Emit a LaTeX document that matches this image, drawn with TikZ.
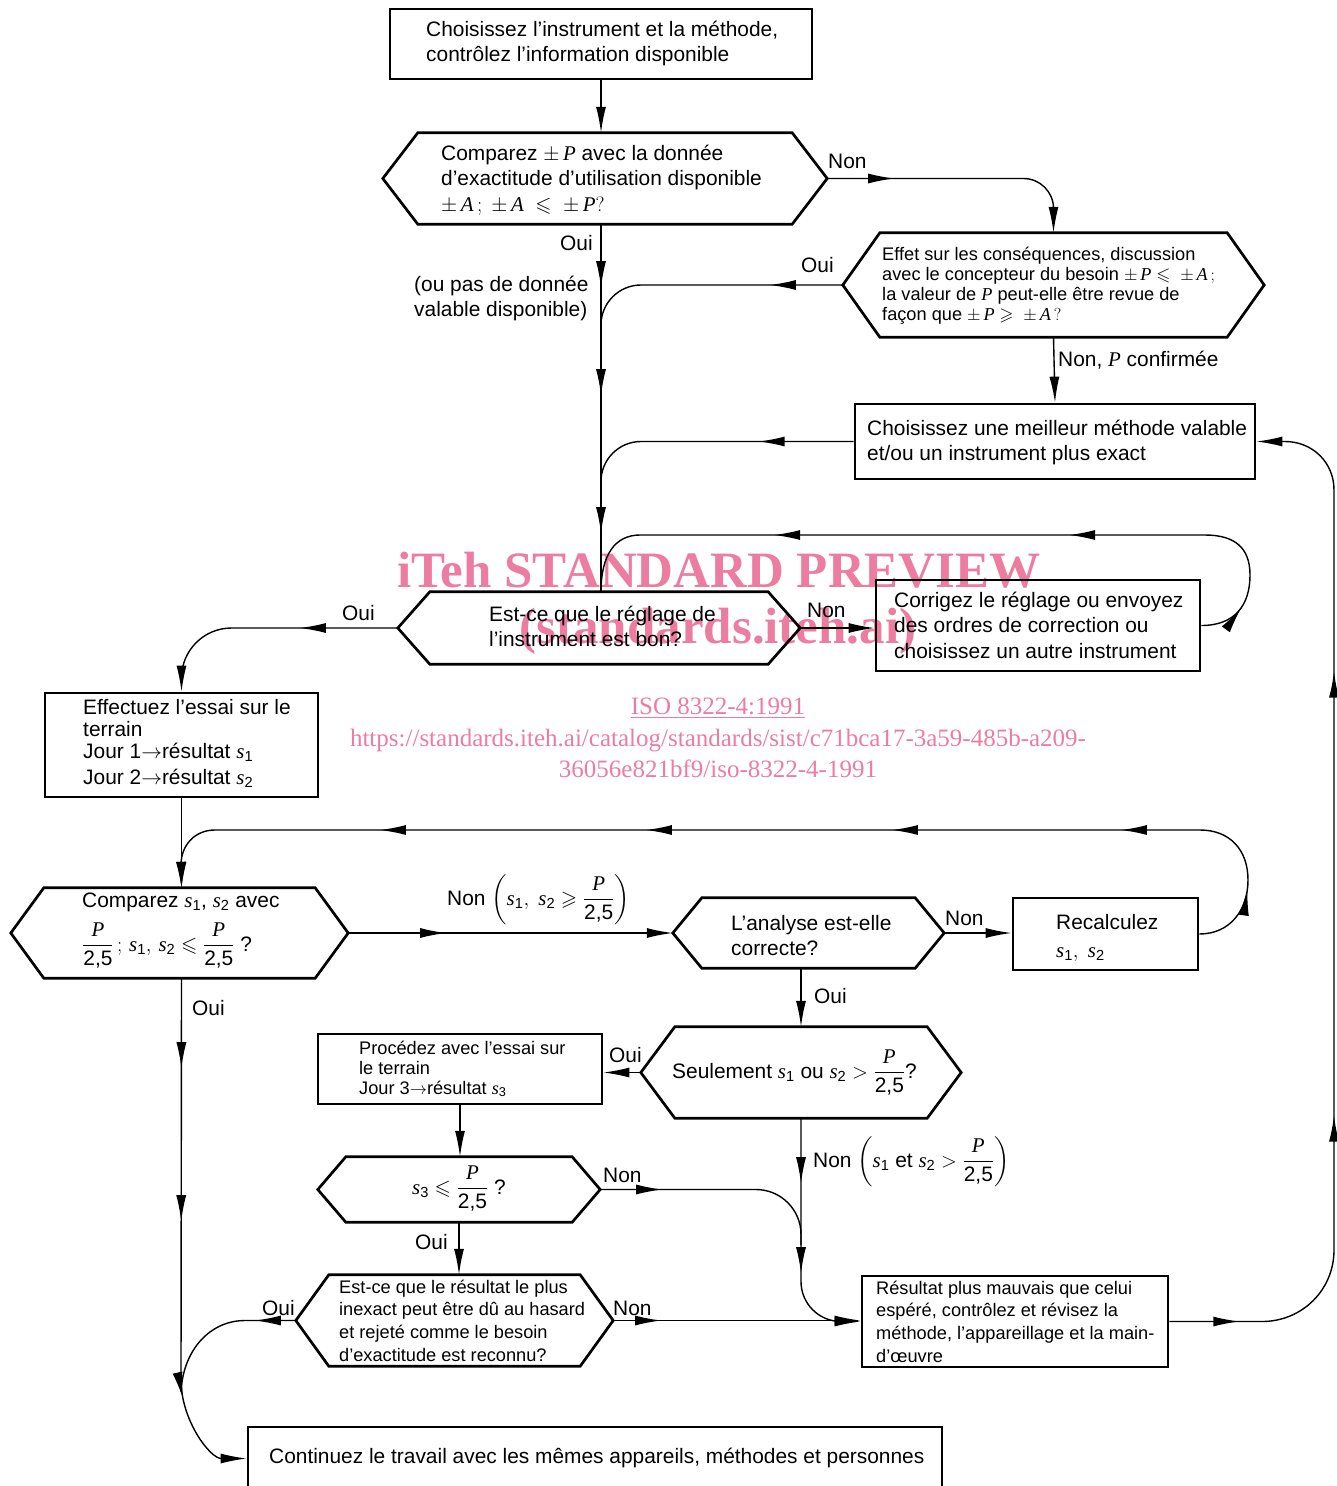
\documentclass[tikz,border=0pt]{standalone}
\usepackage{amsmath,amssymb}
\usepackage{fontspec}
\setmainfont{Liberation Sans}
\newfontfamily\wmfont{Liberation Serif}
\newfontfamily\varfont{Liberation Serif}
\usetikzlibrary{arrows.meta,decorations.markings,fit,calc}
\newcommand\tl[1]{\begin{tabular}[t]{@{}l@{}}#1\end{tabular}}
\newcommand\V[1]{\text{\varfont\itshape #1}}
\newcommand\sI[1]{\V{s}_{\text{#1}}}
\newcommand\frP{\dfrac{\V{P}}{\mbox{2,5}}}
\definecolor{wm}{RGB}{236,125,160}
\newcommand\hexdraw[2]{\draw[line width=2.7pt,line join=miter] (#1.west) -- ($(#1.north west)+(#2,0)$) -- ($(#1.north east)+(-#2,0)$) -- (#1.east) -- ($(#1.south east)+(-#2,0)$) -- ($(#1.south west)+(#2,0)$) -- cycle;}
\begin{document}
\begin{tikzpicture}[x=1pt,y=-1pt,
  >={Latex[length=26pt,width=10pt]},
  conn/.style={line width=1.4pt},
  ma/.style={postaction={decorate,decoration={markings,mark=at position #1 with {\arrow{>}}}}},
  boxst/.style={draw,line width=2.7pt,inner sep=0pt},
  hexbox/.style={inner sep=0pt},
  txt/.style={inner sep=0pt,anchor=base west,font=\fontsize{20.9}{25.5}\selectfont},
  stxt/.style={inner sep=0pt,anchor=base west,font=\fontsize{18.2}{20}\selectfont},
  lbl/.style={inner sep=0pt,anchor=base west,font=\fontsize{20.9}{25.5}\selectfont},
  wmk/.style={inner sep=0pt,anchor=base,text=wm},
]
\useasboundingbox (0,0) rectangle (1337,1486);
\clip (0,0) rectangle (1337,1486);

% watermark
\node[wmk,font=\wmfont\bfseries\fontsize{51}{51}\selectfont] (w1) at (719,587) {iTeh STANDARD PREVIEW};
\node[wmk,font=\wmfont\bfseries\fontsize{51}{51}\selectfont] (w2) at (718,643) {(standards.iteh.ai)};
\node[wmk,font=\wmfont\fontsize{25}{25}\selectfont] (w3) at (718,714) {\underline{ISO 8322-4:1991}};
\node[wmk,font=\wmfont\fontsize{25}{25}\selectfont] (w4) at (718,746) {https://standards.iteh.ai/catalog/standards/sist/c71bca17-3a59-485b-a209-};
\node[wmk,font=\wmfont\fontsize{25}{25}\selectfont] (w5) at (718,777) {36056e821bf9/iso-8322-4-1991};

% boxes
\node[boxst,fit={(390,9) (812,79)}] (b1) {};
\node[boxst,fit={(855,404) (1255,479)}] (b2) {};
\node[boxst,fit={(876,580) (1200,671)}] (b3) {};
\node[boxst,fit={(45,693) (318,797)}] (b4) {};
\node[boxst,fit={(1013,898) (1198,970)}] (b5) {};
\node[boxst,fit={(318,1034) (602,1104)}] (b6) {};
\node[boxst,fit={(862,1276) (1168,1367)}] (b7) {};
\node[boxst,fit={(248,1427) (942,1490)}] (b8) {};

% hexagons
\node[hexbox,fit={(383,133) (827,224)}] (h1) {}; \hexdraw{h1}{35}
\node[hexbox,fit={(843,233) (1264,337)}] (h2) {}; \hexdraw{h2}{37}
\node[hexbox,fit={(398,592) (800,664)}] (h3) {}; \hexdraw{h3}{32}
\node[hexbox,fit={(11,888) (348,978)}] (h4) {}; \hexdraw{h4}{33}
\node[hexbox,fit={(673,898) (944,968)}] (h5) {}; \hexdraw{h5}{29}
\node[hexbox,fit={(641,1027) (961,1118)}] (h6) {}; \hexdraw{h6}{34}
\node[hexbox,fit={(318,1157) (600,1222)}] (h7) {}; \hexdraw{h7}{28}
\node[hexbox,fit={(296,1275) (613,1366)}] (h8) {}; \hexdraw{h8}{33}

% texts
\node[txt] (t1) at (426,36) {\tl{Choisissez l’instrument et la méthode,\\contrôlez l’information disponible}};
\node[txt] (t2) at (441,160) {\tl{Comparez $\pm\,\V{P}$ avec la donnée\\d’exactitude d’utilisation disponible\\$\pm\,\V{A}\,;\ \pm\,\V{A}\ \leqslant\ \pm\,\V{P}?$}};
\node[stxt] (t3) at (882,260) {\tl{Effet sur les conséquences, discussion\\avec le concepteur du besoin $\pm\,\V{P} \leqslant\ \pm\,\V{A}\,;$\\la valeur de $\V{P}$ peut-elle être revue de\\façon que $\pm\,\V{P} \geqslant\ \pm\,\V{A}\,?$}};
\node[txt] (t4) at (867,435) {\tl{Choisissez une meilleur méthode valable\\et/ou un instrument plus exact}};
\node[txt] (t5) at (489,621) {\tl{Est-ce que le réglage de\\l’instrument est bon?}};
\node[txt] (t6) at (894,607) {\tl{Corrigez le réglage ou envoyez\\des ordres de correction ou\\choisissez un autre instrument}};
\node[txt,font=\fontsize{20.9}{22}\selectfont] (t7) at (83,714) {\tl{Effectuez l’essai sur le\\terrain\\Jour 1$\rightarrow$résultat $\sI{1}$\\[4pt]Jour 2$\rightarrow$résultat $\sI{2}$}};
\node[txt] (t8) at (82,907) {Comparez $\sI{1}$, $\sI{2}$ avec};
\node[txt] (t9) at (82,951) {$\frP\,;\,\sI{1},\,\sI{2}\leqslant\frP$ ?};
\node[txt] (t10) at (731,930) {\tl{L’analyse est-elle\\correcte?}};
\node[txt] (t11) at (1056,929) {Recalculez};
\node[txt] (t12) at (1056,957) {$\sI{1},\ \sI{2}$};
\node[txt] (t13) at (672,1078) {Seulement $\sI{1}$ ou $\sI{2} > \frP$?};
\node[stxt] (t14) at (359,1054) {\tl{Procédez avec l’essai sur\\le terrain\\Jour 3$\rightarrow$résultat $\sI{3}$}};
\node[txt] (t15) at (412,1194) {$\sI{3}\leqslant\frP$ ?};
\node[stxt,font=\fontsize{18.2}{22.7}\selectfont] (t16) at (339,1293) {\tl{Est-ce que le résultat le plus\\inexact peut être dû au hasard\\et rejeté comme le besoin\\d’exactitude est reconnu?}};
\node[stxt,font=\fontsize{18.2}{22.7}\selectfont] (t17) at (876,1294) {\tl{Résultat plus mauvais que celui\\espéré, contrôlez et révisez la\\méthode, l’appareillage et la main-\\d’œuvre}};
\node[txt] (t18) at (269,1463) {Continuez le travail avec les mêmes appareils, méthodes et personnes};

% labels
\node[lbl] (l1) at (828,168) {Non};
\node[lbl] (l2) at (560,250) {Oui};
\node[lbl] (l3) at (414,291) {\tl{(ou pas de donnée\\valable disponible)}};
\node[lbl] (l4) at (801,272) {Oui};
\node[lbl] (l5) at (1058,366) {Non, $\V{P}$ confirmée};
\node[lbl] (l6) at (342,620) {Oui};
\node[lbl] (l7) at (807,617) {Non};
\node[lbl] (l8) at (447,905) {Non $\left(\sI{1},\ \sI{2} \geqslant \frP\right)$};
\node[lbl] (l9) at (945,925) {Non};
\node[lbl] (l10) at (814,1003) {Oui};
\node[lbl] (l11) at (192,1015) {Oui};
\node[lbl] (l12) at (609,1062) {Oui};
\node[lbl] (l13) at (603,1182) {Non};
\node[lbl] (l14) at (813,1167) {Non $\left(\sI{1} \text{ et } \sI{2} > \frP\right)$};
\node[lbl] (l15) at (415,1249) {Oui};
\node[lbl] (l16) at (262,1315) {Oui};
\node[lbl] (l17) at (613,1315) {Non};

% merge points
\coordinate (m1) at (601,322);
\coordinate (m2) at (601,482);
\coordinate (m7) at (801,1245);
\coordinate (m8) at (181,1392);

% connectors
\draw[conn,->] (b1.south) -- (b1.south |- h1.north);
\draw[conn,ma=63pt,ma=171pt,ma=309pt] (h1.south -| b1.south) -- (h3.north -| b1.south);
\draw[conn,->,ma=67pt,rounded corners=30pt] (h1.east) -| (h2.north);
\draw[conn,ma=73pt,rounded corners=40pt] (h2.west) -| (m1);
\draw[conn,->] (h2.south) -- (b2.north);
\draw[conn,ma=95pt,rounded corners=40pt] (b2.west) -| (m2);
\draw[conn,ma=45pt,ma=285pt,ma=580pt] (b3.east) .. controls (1235,625.5) and (1250,605) .. (1250,575) .. controls (1250,548) and (1235,535) .. (1205,535) -- (640,535) .. controls (615,535) and (601,555) .. (h3.north -| b1.south);
\draw[conn,->] (h3.east) -- (h3.east -| b3.west);
\draw[conn,->,ma=98pt,rounded corners=50pt] (h3.west) -| (b4.north);
\draw[conn,->] (b4.south) -- (b4.south |- h4.north);
\draw[conn,->,ma=72pt,ma=239pt,ma=468pt,ma=714pt,ma=980pt] (b5.east) .. controls (1230,934) and (1248,910) .. (1248,880) .. controls (1248,850) and (1230,830) .. (1200,830) -- (215,830) .. controls (195,830) and (181,845) .. (181,865) -- (b4.south |- h4.north);
\draw[conn,->,ma=98pt] (h4.east) -- (h5.west);
\draw[conn,->] (h5.east) -- (h5.east -| b5.west);
\draw[conn,->] (h6.north |- h5.south) -- (h6.north);
\draw[conn,->] (h6.west) -- (h6.west -| b6.east);
\draw[conn,->] (b6.south) -- (b6.south |- h7.north);
\draw[conn,->,ma=65pt,ma=155pt,rounded corners=40pt] (h6.south) |- (b7.west);
\draw[conn,ma=62pt,rounded corners=45pt] (h7.east) -| (m7);
\draw[conn,->] (h7.south) -- (h7.south |- h8.north);
\draw[conn,->,ma=48pt] (h8.east) -- (h8.east -| b7.west);
\draw[conn,->,ma=70pt,ma=340pt,ma=784pt] (b7.east) -- (1262,1321.5) .. controls (1302,1321.5) and (1334,1290) .. (1334,1250) -- (1334,490) .. controls (1334,462) and (1312,441.5) .. (1285,441.5) -- (b2.east);
\draw[conn,->,ma=90pt,ma=243pt,ma=420pt] (h4.south -| b4.south) -- (181,1380) .. controls (181,1420) and (210,1458.5) .. (b8.west);
\draw[conn,ma=41pt] (h8.west) -- (245,1320.5) .. controls (210,1320.5) and (183,1350) .. (m8);
\end{tikzpicture}
\end{document}
